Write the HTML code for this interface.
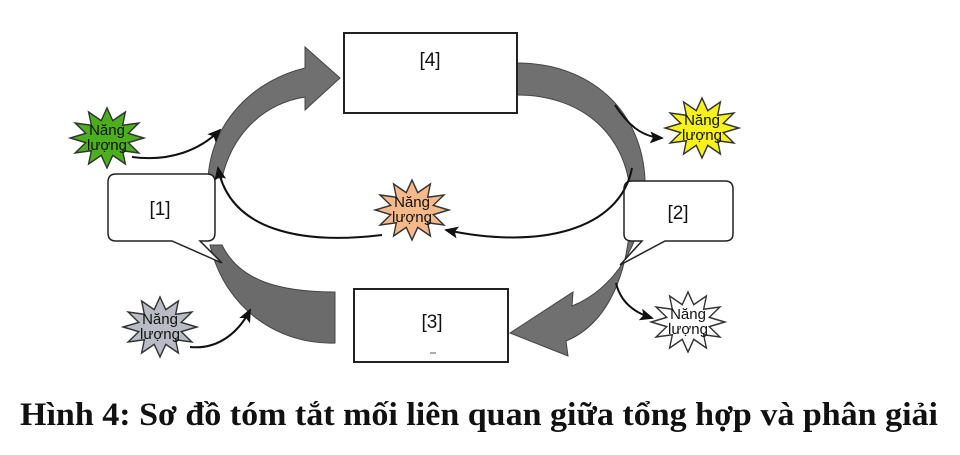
<!DOCTYPE html>
<html><head><meta charset="utf-8"><style>
html,body{margin:0;padding:0;background:#fff;}
svg{display:block;}
.st{stroke:#333;stroke-width:1.2;}
.lbl{font-family:"Liberation Sans",sans-serif;font-size:15px;fill:#111;text-anchor:middle;}
.box{font-family:"Liberation Sans",sans-serif;font-size:19px;fill:#111;text-anchor:middle;}
</style></head><body>
<svg width="960" height="455" viewBox="0 0 960 455" xmlns="http://www.w3.org/2000/svg">
<defs>
<polygon id="star" points="32,0 18.5,3.7 27.7,12 13.6,10.2 16,20.8 5,13.9 0,24 -5,13.9 -16,20.8 -13.6,10.2 -27.7,12 -18.5,3.7 -32,0 -18.5,-3.7 -27.7,-12 -13.6,-10.2 -16,-20.8 -5,-13.9 0,-24 5,-13.9 16,-20.8 13.6,-10.2 27.7,-12 18.5,-3.7"/>
<marker id="ah2" markerWidth="14" markerHeight="14" refX="12" refY="7" orient="auto" markerUnits="userSpaceOnUse">
<path d="M0,1 L14,7 L0,13 L3,7 Z" fill="#111"/></marker>
</defs>
<rect width="960" height="455" fill="#fff"/>

<!-- big grey arrows -->
<path d="M335,292 L335,343 C280,345 225,310 210,245 L222,245 C240,282 282,292 335,292 Z" fill="#6b6b6b" stroke="#444" stroke-width="1"/>
<path d="M208,178 C212,120 255,80 305,68 L305,47 L340,78 L305,110 L305,97 C262,104 232,135 222,178 Z" fill="#707070" stroke="#444" stroke-width="1"/>
<path d="M517,63 C590,63 642,110 645,180 C646,245 612,290 572,306 L573,292 L510,333 L568,356 L566,341 C612,322 634,262 630,190 C624,132 580,95 517,95 Z" fill="#707070" stroke="#444" stroke-width="1"/>

<!-- boxes -->
<rect x="344" y="33" width="173" height="80" fill="#fff" stroke="#222" stroke-width="2"/>
<text x="430" y="66" class="box">[4]</text>
<rect x="354" y="289" width="154" height="73" fill="#fff" stroke="#222" stroke-width="2"/>
<text x="432" y="328" class="box">[3]</text>
<line x1="430" y1="353" x2="436" y2="353" stroke="#555" stroke-width="1"/>

<!-- callouts -->
<path d="M116,174 H207 Q215,174 215,182 V233 Q215,241 207,241 H200 L222,263 L172,241 H116 Q108,241 108,233 V182 Q108,174 116,174 Z" fill="#fff" stroke="#222" stroke-width="1.5"/>
<text x="160" y="215" class="box">[1]</text>
<path d="M632,181 H725 Q733,181 733,189 V234 Q733,241 725,241 H665 L620,265 L642,241 H632 Q624,241 624,234 V189 Q624,181 632,181 Z" fill="#fff" stroke="#222" stroke-width="1.5"/>
<text x="678" y="219" class="box">[2]</text>

<!-- thin arrows -->
<path d="M132,157 C170,162 200,150 220,130" fill="none" stroke="#111" stroke-width="2" marker-end="url(#ah2)"/>
<path d="M190,347 C220,350 240,330 250,310" fill="none" stroke="#111" stroke-width="2" marker-end="url(#ah2)"/>
<path d="M382,235 C300,245 230,230 218,168" fill="none" stroke="#111" stroke-width="2" marker-end="url(#ah2)"/>
<path d="M632,168 C620,230 540,250 446,230" fill="none" stroke="#111" stroke-width="2" marker-end="url(#ah2)"/>
<path d="M615,105 C628,125 642,137 662,138" fill="none" stroke="#111" stroke-width="2" marker-end="url(#ah2)"/>
<path d="M616,283 C620,300 632,312 652,318" fill="none" stroke="#111" stroke-width="2" marker-end="url(#ah2)"/>

<!-- stars -->
<g transform="translate(107,138) scale(1.15,1.25)"><use href="#star" fill="#4caf1e" class="st"/></g>
<text x="107" y="135" class="lbl">Năng</text><text x="107" y="150" class="lbl">lượng</text>

<g transform="translate(702,128) scale(1.15,1.25)"><use href="#star" fill="#f6f21a" class="st"/></g>
<text x="702" y="125" class="lbl">Năng</text><text x="702" y="140" class="lbl">lượng</text>

<g transform="translate(412,210) scale(1.15,1.25)"><use href="#star" fill="#f5b98a" class="st"/></g>
<text x="412" y="207" class="lbl">Năng</text><text x="412" y="222" class="lbl">lượng</text>

<g transform="translate(160,327) scale(1.15,1.25)"><use href="#star" fill="#b9bcc4" class="st"/></g>
<text x="160" y="324" class="lbl">Năng</text><text x="160" y="339" class="lbl">lượng</text>

<g transform="translate(688,322) scale(1.15,1.25)"><use href="#star" fill="#fff" class="st"/></g>
<text x="688" y="319" class="lbl">Năng</text><text x="688" y="334" class="lbl">lượng</text>

<!-- caption -->
<text x="20" y="425" textLength="918" lengthAdjust="spacingAndGlyphs" font-family="Liberation Serif, serif" font-weight="bold" font-size="33" fill="#111">Hình 4: Sơ đồ tóm tắt mối liên quan giữa tổng hợp và phân giải</text>
</svg>
</body></html>
